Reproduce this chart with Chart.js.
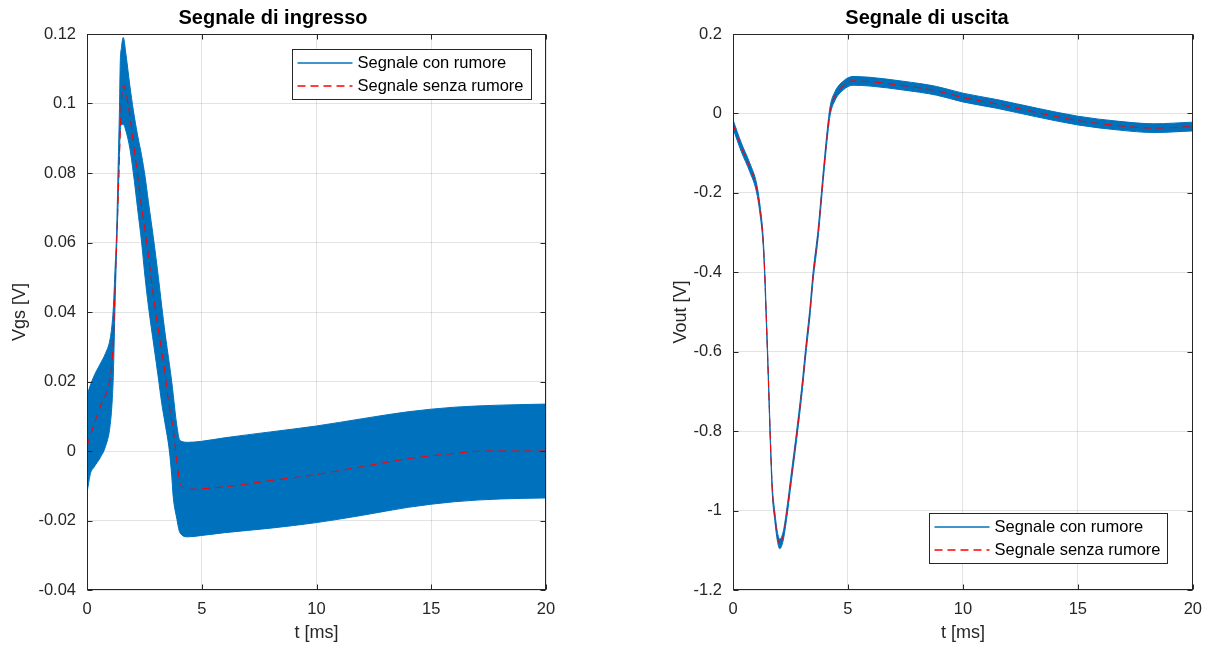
<!DOCTYPE html>
<html>
<head>
<meta charset="utf-8">
<script src="https://cdn.jsdelivr.net/npm/chart.js@4/dist/chart.umd.min.js"></script>
<style>
  html, body { margin: 0; padding: 0; background: #fff; }
  #wrap { position: relative; width: 1212px; height: 650px; }
  canvas { position: absolute; top: 0; }
  #cIn { left: 0; }
  #cOut { left: 606px; }
</style>
</head>
<body>
<div id="wrap">
  <canvas id="cIn" width="606" height="650"></canvas>
  <canvas id="cOut" width="606" height="650"></canvas>
</div>
<script>
// ---------- DATA ----------
const xTicks = [0, 5, 10, 15, 20];

// Left plot: "Segnale di ingresso"
const inYTicks = [-0.04, -0.02, 0, 0.02, 0.04, 0.06, 0.08, 0.1, 0.12];
// Envelope of the noisy signal (band)
const inT = [0,0.15,0.3,0.57,0.8,1.0,1.1,1.15,1.22,1.29,1.35,1.41,1.45,1.5,1.58,1.7,1.87,2.02,2.2,2.38,2.53,2.67,2.92,3.11,3.25,3.4,3.59,3.69,3.76,3.9,4.05,4.4,5,6,8,10,12,14,16,18,20];
const inUpper = [0.016,0.019,0.0215,0.025,0.028,0.032,0.037,0.0415,0.052,0.063,0.08,0.097,0.112,0.116,0.119,0.114,0.105,0.098,0.091,0.085,0.079,0.072,0.06,0.05,0.042,0.034,0.025,0.02,0.016,0.008,0.003,0.0025,0.0028,0.0038,0.0055,0.0072,0.0093,0.0113,0.0126,0.0132,0.0135];
const inLower = [-0.012,-0.0065,-0.0047,-0.002,0.0012,0.007,0.0147,0.0224,0.0415,0.058,0.07,0.085,0.092,0.094,0.094,0.092,0.087,0.08,0.07,0.06,0.05,0.042,0.03,0.021,0.014,0.008,0,-0.007,-0.0134,-0.019,-0.0235,-0.0247,-0.0243,-0.0235,-0.0222,-0.0206,-0.0185,-0.0162,-0.0146,-0.0138,-0.0135];
// Clean signal
const inCleanT = [0,0.27,0.64,0.93,1.07,1.15,1.22,1.29,1.37,1.44,1.51,1.58,1.73,1.95,2.17,2.38,2.6,2.96,3.18,3.4,3.54,3.76,3.91,4.05,4.27,4.5,6,8,9.85,12,14,15.7,17.5,20];
const inClean = [0.0013,0.007,0.0138,0.0185,0.0243,0.032,0.0463,0.06,0.075,0.0895,0.102,0.1053,0.102,0.0924,0.081,0.0703,0.06,0.0415,0.032,0.0224,0.0147,0.006,-0.0026,-0.0093,-0.0107,-0.011,-0.0103,-0.0085,-0.0069,-0.0045,-0.0022,-0.0009,0,0];

// Right plot: "Segnale di uscita"
const outYTicks = [-1.2, -1, -0.8, -0.6, -0.4, -0.2, 0, 0.2];
const outT = [0,0.36,0.73,1.02,1.16,1.31,1.38,1.44,1.5,1.56,1.63,1.71,1.82,1.93,2.03,2.18,2.32,2.54,2.76,2.98,3.2,3.34,3.48,3.7,3.92,4.07,4.22,4.43,4.79,5.22,5.95,7.4,8.85,10,11.47,13.2,15,16.8,18.3,20];
const outClean = [-0.027,-0.085,-0.136,-0.186,-0.236,-0.32,-0.403,-0.5,-0.6,-0.705,-0.831,-0.948,-1.015,-1.065,-1.083,-1.065,-1.015,-0.915,-0.814,-0.705,-0.579,-0.504,-0.412,-0.303,-0.161,-0.069,0.005,0.043,0.07,0.082,0.08,0.07,0.057,0.04,0.024,0.0025,-0.018,-0.031,-0.037,-0.033];
const outUpper = [-0.016,-0.074,-0.125,-0.175,-0.225,-0.309,-0.392,-0.489,-0.589,-0.694,-0.82,-0.937,-1.004,-1.054,-1.072,-1.054,-1.004,-0.904,-0.803,-0.694,-0.568,-0.493,-0.401,-0.292,-0.15,-0.058,0.016,0.054,0.081,0.093,0.091,0.081,0.068,0.051,0.035,0.0135,-0.007,-0.02,-0.026,-0.022];
const outLower = [-0.038,-0.096,-0.147,-0.197,-0.247,-0.331,-0.414,-0.511,-0.611,-0.716,-0.842,-0.959,-1.026,-1.076,-1.096,-1.076,-1.026,-0.926,-0.825,-0.716,-0.59,-0.515,-0.423,-0.314,-0.172,-0.08,-0.006,0.032,0.059,0.071,0.069,0.059,0.046,0.029,0.013,-0.0085,-0.029,-0.042,-0.048,-0.044];

const labelNoisy = 'Segnale con rumore';
const labelClean = 'Segnale senza rumore';

// ---------- STYLE ----------
const FONT = "'Liberation Sans', Arial, Helvetica, sans-serif";
const AX = '#262626';
const BLUE = '#0072BD';
const RED = '#FF0000';
const GRID = 'rgba(38,38,38,0.13)';
const DASH = [8, 5];

const legendItems = [
  { label: labelNoisy, color: BLUE, dash: [] },
  { label: labelClean, color: RED, dash: DASH }
];

const pts = (xs, ys) => xs.map((x, i) => ({ x: x, y: ys[i] }));
const fmt = v => String(+Number(v).toFixed(6));

const framePlugin = {
  id: 'frame',
  afterDraw(chart, args, o) {
    const { ctx, chartArea: a } = chart;
    const xs = chart.scales.x, ys = chart.scales.y;
    const L = Math.round(a.left) + 0.5, R = Math.round(a.right) - 0.5;
    const T = Math.round(a.top) + 0.5, B = Math.round(a.bottom) - 0.5;
    ctx.save();
    ctx.setLineDash([]);
    ctx.strokeStyle = AX;
    ctx.lineWidth = 1;
    ctx.strokeRect(L, T, R - L, B - T);
    const tl = 5;
    ctx.beginPath();
    xs.ticks.forEach(t => {
      const p = Math.round(xs.getPixelForValue(t.value)) + 0.5;
      ctx.moveTo(p, B); ctx.lineTo(p, B - tl);
      ctx.moveTo(p, T); ctx.lineTo(p, T + tl);
    });
    ys.ticks.forEach(t => {
      const p = Math.round(ys.getPixelForValue(t.value)) + 0.5;
      ctx.moveTo(L, p); ctx.lineTo(L + tl, p);
      ctx.moveTo(R, p); ctx.lineTo(R - tl, p);
    });
    ctx.stroke();

    // Legend box
    const lg = o.legend;
    const w = lg.w, h = lg.h;
    const bx = Math.round(a.right - lg.dx - w);
    const by = Math.round(lg.corner === 'ne' ? a.top + lg.dy : a.bottom - lg.dy - h);
    ctx.fillStyle = '#fff';
    ctx.fillRect(bx, by, w, h);
    ctx.strokeStyle = AX;
    ctx.lineWidth = 1;
    ctx.strokeRect(bx + 0.5, by + 0.5, w, h);
    const rows = [14.2, 37.3];
    legendItems.forEach((it, i) => {
      const yy = by + rows[i];
      const ly = Math.round(yy);
      ctx.save();
      ctx.beginPath();
      ctx.strokeStyle = it.color;
      ctx.lineWidth = 1.5;
      ctx.setLineDash(it.dash);
      ctx.moveTo(bx + 5.5, ly);
      ctx.lineTo(bx + 60.5, ly);
      ctx.stroke();
      ctx.restore();
      ctx.fillStyle = '#000';
      ctx.font = '16.5px ' + FONT;
      ctx.textBaseline = 'middle';
      ctx.textAlign = 'left';
      ctx.fillText(it.label, bx + 65.5, yy + 0.5);
    });
    ctx.restore();
  }
};

function makeChart(id, cfg) {
  return new Chart(document.getElementById(id), {
    type: 'line',
    data: {
      datasets: [
        {
          label: labelClean, order: 0,
          data: pts(cfg.cleanT, cfg.clean),
          borderColor: RED, borderWidth: 1, borderDash: DASH,
          pointRadius: 0, fill: false, cubicInterpolationMode: 'monotone'
        },
        {
          label: labelNoisy, order: 1,
          data: pts(cfg.bandT, cfg.upper),
          borderColor: BLUE, backgroundColor: BLUE, borderWidth: 1,
          pointRadius: 0, fill: '+1', cubicInterpolationMode: 'monotone'
        },
        {
          label: labelNoisy + ' (inf)', order: 2,
          data: pts(cfg.bandT, cfg.lower),
          borderColor: BLUE, borderWidth: 1,
          pointRadius: 0, fill: false, cubicInterpolationMode: 'monotone'
        }
      ]
    },
    options: {
      responsive: false,
      animation: false,
      events: [],
      layout: { padding: { left: cfg.padLeft, right: cfg.padRight, top: 0, bottom: 0 } },
      plugins: {
        legend: { display: false },
        tooltip: { enabled: false },
        title: {
          display: true, text: cfg.title, color: '#000',
          font: { family: FONT, size: 20, weight: 'bold', lineHeight: 1.2 },
          padding: { top: 6, bottom: 4 }
        },
        frame: { legend: cfg.legend }
      },
      scales: {
        x: {
          type: 'linear', min: 0, max: 20,
          afterBuildTicks: s => { s.ticks = xTicks.map(v => ({ value: v })); },
          afterFit: s => { s.height = 60; },
          grid: { color: GRID, drawTicks: false, lineWidth: 1 },
          border: { display: false },
          ticks: { color: AX, padding: 10, font: { family: FONT, size: 16.5 }, callback: v => fmt(v), maxRotation: 0, autoSkip: false },
          title: { display: true, text: 't [ms]', color: AX, font: { family: FONT, size: 18, lineHeight: 1.2 }, padding: 6 }
        },
        y: {
          type: 'linear', min: cfg.yTicks[0], max: cfg.yTicks[cfg.yTicks.length - 1],
          afterBuildTicks: s => { s.ticks = cfg.yTicks.map(v => ({ value: v })); },
          afterFit: s => { s.width = cfg.yWidth; },
          grid: { color: GRID, drawTicks: false, lineWidth: 1 },
          border: { display: false },
          ticks: { color: AX, padding: 11, font: { family: FONT, size: 16.5 }, callback: v => fmt(v), autoSkip: false },
          title: { display: true, text: cfg.yLabel, color: AX, font: { family: FONT, size: 18, lineHeight: 1.2 }, padding: 9 }
        }
      }
    },
    plugins: [framePlugin]
  });
}

makeChart('cIn', {
  title: 'Segnale di ingresso', yLabel: 'Vgs [V]', yTicks: inYTicks,
  bandT: inT, upper: inUpper, lower: inLower, cleanT: inCleanT, clean: inClean,
  padLeft: 0, padRight: 60, yWidth: 87,
  legend: { corner: 'ne', dx: 15.3, dy: 15.3, w: 239, h: 50 }
});

makeChart('cOut', {
  title: 'Segnale di uscita', yLabel: 'Vout [V]', yTicks: outYTicks,
  bandT: outT, upper: outUpper, lower: outLower, cleanT: outT, clean: outClean,
  padLeft: 55, padRight: 19, yWidth: 72,
  legend: { corner: 'se', dx: 26, dy: 27.3, w: 238, h: 50 }
});
</script>
</body>
</html>
